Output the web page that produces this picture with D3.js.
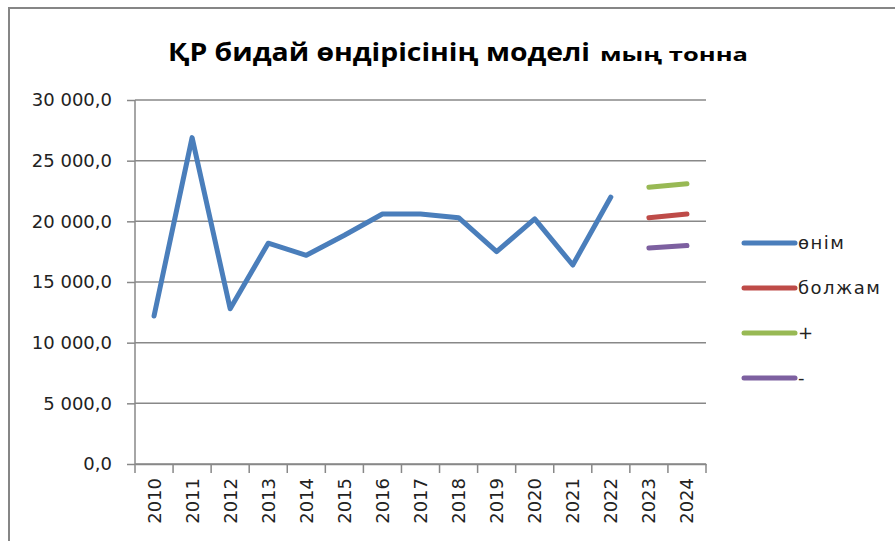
<!DOCTYPE html>
<html>
<head>
<meta charset="utf-8">
<script src="https://cdn.jsdelivr.net/npm/d3@7"></script>
<style>
  body { margin: 0; background: #fff; }
  svg { display: block; }
</style>
</head>
<body>
<script>
// деректер
let years = ["2010", "2011", "2012", "2013", "2014", "2015", "2016", "2017",
             "2018", "2019", "2020", "2021", "2022", "2023", "2024"];
let onim = [12200, 26900, 12800, 18200, 17200, 18850, 20600, 20600,
            20300, 17500, 20200, 16400, 22000, null, null];
let bolzham = [null, null, null, null, null, null, null, null, null, null, null, null, null, 20300, 20600];
let plus = [null, null, null, null, null, null, null, null, null, null, null, null, null, 22800, 23100];
let minus = [null, null, null, null, null, null, null, null, null, null, null, null, null, 17800, 18000];
let seriesNames = ["өнім", "болжам", "+", "-"];
let seriesColors = ["#4a7ebb", "#be4b48", "#98b954", "#7d60a0"];
let yTicks = [0, 5000, 10000, 15000, 20000, 25000, 30000];

function graficar() {
  let w = 895;
  let h = 541;
  let svg = d3.select("body").append("svg").attr("width", w).attr("height", h);

  // рамка (тек жоғарғы және сол жақ шеті көрінеді)
  svg.append("rect")
    .attr("x", 9).attr("y", 8)
    .attr("width", w + 20).attr("height", h + 20)
    .attr("fill", "none").attr("stroke", "#868686").attr("stroke-width", 2);

  let left = 135, right = 706, top = 100, bottom = 464;
  let font = "DejaVu Sans, Verdana, sans-serif";

  let x = d3.scaleBand().domain(years).range([left, right]);
  let y = d3.scaleLinear().domain([0, 30000]).range([bottom, top]);

  // торлар
  svg.append("g")
    .selectAll("line")
    .data(yTicks)
    .enter()
    .append("line")
    .attr("x1", left)
    .attr("x2", right)
    .attr("y1", d => y(d))
    .attr("y2", d => y(d))
    .attr("stroke", "#888")
    .attr("stroke-width", 1.5);

  // y осі
  let fmt = d => d3.format(",.1f")(d).replace(/,/g, " ").replace(".", ",");
  let yAxis = svg.append("g")
    .attr("transform", "translate(" + left + ",0)")
    .call(d3.axisLeft(y).tickValues(yTicks).tickSize(8).tickPadding(15).tickFormat(fmt));
  yAxis.selectAll("path, line").attr("stroke", "#888").attr("stroke-width", 1.5);
  yAxis.select(".domain").attr("d", "M0," + top + "V" + bottom);
  yAxis.selectAll("text")
    .attr("font-family", font)
    .attr("font-size", 18)
    .attr("fill", "#222");

  // x осі
  let xAxis = svg.append("g")
    .attr("transform", "translate(0," + bottom + ")")
    .call(d3.axisBottom(x).tickSize(0).tickSizeOuter(0));
  xAxis.select(".domain").attr("stroke", "#888").attr("stroke-width", 1.5);
  xAxis.selectAll(".tick line").remove();
  xAxis.selectAll(".tick text")
    .attr("transform", "rotate(-90)")
    .attr("text-anchor", "end")
    .attr("dx", -14)
    .attr("dy", "0.36em")
    .attr("x", 0)
    .attr("y", 0)
    .attr("font-family", font)
    .attr("font-size", 18)
    .attr("fill", "#222");
  // категория шекараларындағы белгілер
  svg.append("g")
    .selectAll("line")
    .data(years.concat(["end"]))
    .enter()
    .append("line")
    .attr("x1", (d, i) => left + i * x.step())
    .attr("x2", (d, i) => left + i * x.step())
    .attr("y1", bottom)
    .attr("y2", bottom + 9)
    .attr("stroke", "#888")
    .attr("stroke-width", 1.5);

  // сызықтар
  let allSeries = [onim, bolzham, plus, minus];
  let line = d3.line()
    .defined(d => d.v !== null)
    .x(d => x(d.year) + x.bandwidth() / 2)
    .y(d => y(d.v));

  allSeries.forEach(function (s, k) {
    let pts = years.map((yr, i) => ({ year: yr, v: s[i] }));
    svg.append("path")
      .attr("d", line(pts))
      .attr("fill", "none")
      .attr("stroke", seriesColors[k])
      .attr("stroke-width", 5)
      .attr("stroke-linejoin", "round")
      .attr("stroke-linecap", "round");
  });

  // легенда
  let leg = svg.append("g")
    .selectAll("g")
    .data(seriesNames)
    .enter()
    .append("g")
    .attr("transform", (d, i) => "translate(744," + (243 + i * 45) + ")");
  leg.append("line")
    .attr("x1", 0).attr("x2", 51)
    .attr("stroke", (d, i) => seriesColors[i])
    .attr("stroke-width", 5)
    .attr("stroke-linecap", "round");
  leg.append("text")
    .attr("x", 54)
    .attr("dy", "0.36em")
    .attr("font-family", font)
    .attr("font-size", 18)
    .attr("letter-spacing", 1.5)
    .attr("fill", "#222")
    .text(d => d);

  // тақырып
  let title = svg.append("text")
    .attr("x", 168)
    .attr("y", 61)
    .attr("font-family", "Open Sans, sans-serif")
    .attr("font-weight", "bold")
    .attr("fill", "#000");
  title.append("tspan")
    .attr("font-size", 25)
    .attr("textLength", 422)
    .attr("lengthAdjust", "spacingAndGlyphs")
    .text("ҚР бидай өндірісінің моделі");
  title.append("tspan")
    .attr("x", 600)
    .attr("font-size", 17)
    .attr("textLength", 148)
    .attr("lengthAdjust", "spacingAndGlyphs")
    .text("мың тонна");
}

graficar();
</script>
</body>
</html>
